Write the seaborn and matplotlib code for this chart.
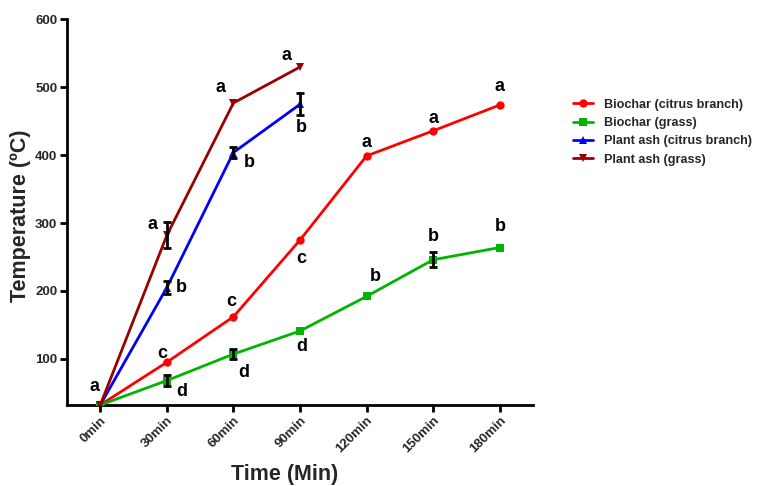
import numpy as np
import pandas as pd
import matplotlib
matplotlib.use("Agg")
import matplotlib.pyplot as plt
import seaborn as sns
from matplotlib.lines import Line2D

# ---- data ----
times = ["0min", "30min", "60min", "90min", "120min", "150min", "180min"]
series_names = ["Biochar (citrus branch)", "Biochar (grass)",
                "Plant ash (citrus branch)", "Plant ash (grass)"]

biochar_citrus = [32, 95, 162, 275, 399, 436, 474]
biochar_citrus_sd = [0, 0, 0, 0, 0, 0, 0]
biochar_citrus_lab = ["a", "c", "c", "c", "a", "a", "a"]

biochar_grass = [32, 68, 107, 141, 192, 246, 264]
biochar_grass_sd = [0, 8, 7, 0, 0, 11, 0]
biochar_grass_lab = ["", "d", "d", "d", "b", "b", "b"]

ash_citrus = [32, 205, 404, 475]
ash_citrus_sd = [0, 10, 8, 16]
ash_citrus_lab = ["", "b", "b", "b"]

ash_grass = [32, 282, 477, 530]
ash_grass_sd = [0, 19, 0, 0]
ash_grass_lab = ["", "a", "a", "a"]

values = [biochar_citrus, biochar_grass, ash_citrus, ash_grass]
sds = [biochar_citrus_sd, biochar_grass_sd, ash_citrus_sd, ash_grass_sd]
labels = [biochar_citrus_lab, biochar_grass_lab, ash_citrus_lab, ash_grass_lab]

# ---- style ----
colors = ["#FF0000", "#00B400", "#0000FF", "#990000"]
markers = ["o", "s", "^", "v"]
# label offsets in pixels (dx, dy)
offsets = [
    [(-6, 18), (-5, 9), (-2, 15), (1, -18), (0, 13), (0, 12), (0, 19)],
    [(0, 0), (15, -11), (10, -18), (2, -15), (9, 20), (0, 23), (1, 21)],
    [(0, 0), (14, 0), (16, -10), (1, -23)],
    [(0, 0), (-14, 11), (-13, 15), (-13, 11)],
]

rows = []
for name, vals, sd in zip(series_names, values, sds):
    for i, (v, s) in enumerate(zip(vals, sd)):
        rows.append({"series": name, "x": i, "time": times[i], "temp": v, "sd": s})
df = pd.DataFrame(rows)

sns.set_style("ticks")
plt.rcParams["font.family"] = ["Liberation Sans", "DejaVu Sans"]

fig = plt.figure(figsize=(7.69, 4.86), dpi=100)
ax = fig.add_axes([0.0871, 0.1667, 0.606, 0.7932])

palette = dict(zip(series_names, colors))
mk = dict(zip(series_names, markers))
sns.lineplot(data=df, x="x", y="temp", hue="series", style="series",
             palette=palette, markers=mk, dashes=False, linewidth=2,
             markersize=6, markeredgewidth=0, ax=ax, legend=False, zorder=3)

for name, vals, sd in zip(series_names, values, sds):
    sub = df[df["series"] == name]
    m = sub["sd"] > 0
    ax.errorbar(sub["x"][m], sub["temp"][m], yerr=sub["sd"][m], fmt="none",
                ecolor="black", elinewidth=2, capsize=3, capthick=2, zorder=4)

for name, vals, labs, offs in zip(series_names, values, labels, offsets):
    for i, (v, lab) in enumerate(zip(vals, labs)):
        if lab:
            ax.annotate(lab, xy=(i, v), xytext=offs[i], textcoords="offset pixels",
                        ha="center", va="center", fontsize=13, fontweight="bold",
                        color="black", zorder=5)

ax.set_xlim(-0.5, 6.5)
ax.set_ylim(32, 600)
ax.set_yticks([100, 200, 300, 400, 500, 600])
ax.set_xticks(range(len(times)))
ax.set_xticklabels(times, rotation=45, ha="right", rotation_mode="anchor")
for lbl in ax.get_xticklabels() + ax.get_yticklabels():
    lbl.set_fontweight("bold")
    lbl.set_fontsize(9.5)
ax.tick_params(axis="both", width=2, length=5, color="black", pad=2)
sns.despine(ax=ax)
for sp in ["left", "bottom"]:
    ax.spines[sp].set_linewidth(2)
    ax.spines[sp].set_color("black")

ax.set_xlabel("Time (Min)", fontsize=15.5, fontweight="bold")
ax.set_ylabel("Temperature (ºC)", fontsize=15.5, fontweight="bold")
ax.xaxis.set_label_coords(0.468, -0.153)
ax.yaxis.set_label_coords(-0.077, 0.49)

handles = [Line2D([0], [0], color=c, marker=m, linewidth=2, markersize=6,
                  markeredgewidth=0) for c, m in zip(colors, markers)]
leg = fig.legend(handles, series_names, loc="upper left",
                 bbox_to_anchor=(0.737, 0.81), frameon=False,
                 prop={"weight": "bold", "size": 9.1}, handlelength=1.6,
                 labelspacing=0.5, borderpad=0, handletextpad=0.85)

fig.savefig("out.png", dpi=100)
